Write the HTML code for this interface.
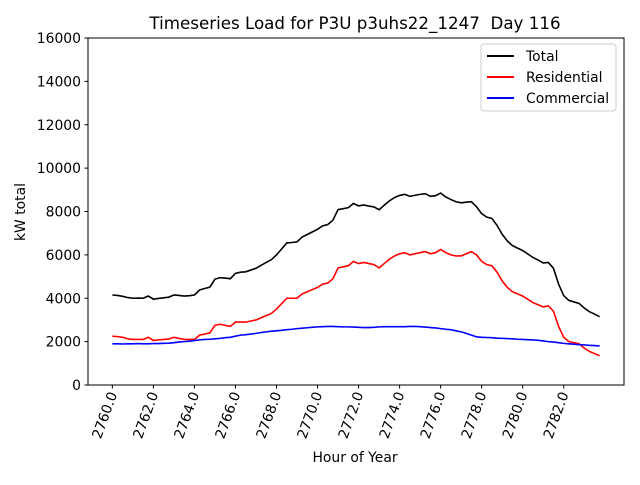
<!DOCTYPE html>
<html><head><meta charset="utf-8"><style>
body{margin:0;background:#fff;}
svg text{font-family:"DejaVu Sans","Liberation Sans",sans-serif;}
</style></head><body>
<svg id="chart" width="640" height="480" xmlns="http://www.w3.org/2000/svg">
<rect width="640" height="480" fill="#fff"/>
<text x="355" y="29" font-size="16.7" text-anchor="middle" style="white-space:pre">Timeseries Load for P3U p3uhs22_1247&#160; Day 116</text>
<g id="plot"></g>
<rect x="88" y="38" width="536" height="347" fill="none" stroke="#000" stroke-width="1"/>
<text transform="translate(25,212) rotate(-90)" font-size="13.9" text-anchor="middle">kW total</text>
<text x="355" y="462" font-size="13.9" text-anchor="middle">Hour of Year</text>
<g>
<rect x="481" y="44" width="135" height="67" rx="3" fill="#fff" stroke="#ccc"/>
<line x1="487" y1="56" x2="514" y2="56" stroke="#000" stroke-width="2"/>
<text x="526" y="61" font-size="13.9">Total</text>
<line x1="487" y1="77" x2="514" y2="77" stroke="#f00" stroke-width="2"/>
<text x="526" y="82" font-size="13.9">Residential</text>
<line x1="487" y1="98" x2="514" y2="98" stroke="#00f" stroke-width="2"/>
<text x="526" y="103" font-size="13.9">Commercial</text>
</g>
</svg>
<script>
const startHour = 2760;
const stepHours = 0.25;
const xTicks = [2760,2762,2764,2766,2768,2770,2772,2774,2776,2778,2780,2782];
const yTicks = [0,2000,4000,6000,8000,10000,12000,14000,16000];
const totalLoad = [4150,4130,4090,4030,4000,4010,4000,4100,3960,3990,4020,4050,4150,4130,4100,4120,4150,4380,4450,4510,4880,4950,4930,4900,5150,5200,5220,5300,5380,5520,5650,5780,6000,6270,6550,6570,6600,6820,6940,7060,7180,7340,7400,7600,8090,8130,8180,8370,8260,8300,8250,8210,8080,8290,8490,8640,8740,8790,8700,8750,8790,8820,8700,8730,8850,8670,8550,8450,8400,8430,8450,8220,7900,7740,7680,7360,6950,6640,6430,6310,6200,6040,5880,5760,5630,5650,5380,4650,4120,3900,3830,3760,3550,3380,3270,3150];
const residentialLoad = [2250,2230,2200,2130,2100,2100,2100,2200,2050,2080,2100,2120,2200,2150,2100,2100,2100,2300,2350,2400,2750,2800,2750,2700,2900,2900,2900,2950,3000,3100,3200,3300,3500,3750,4000,4000,4000,4200,4300,4400,4500,4650,4700,4900,5400,5450,5500,5700,5600,5650,5600,5550,5400,5600,5800,5950,6050,6100,6000,6050,6100,6150,6050,6100,6250,6100,6000,5950,5950,6050,6150,6000,5700,5550,5500,5200,4800,4500,4300,4200,4100,3950,3800,3700,3600,3650,3400,2700,2200,2000,1950,1900,1700,1550,1450,1350];
const commercialLoad = [1900,1900,1890,1900,1900,1910,1900,1900,1910,1910,1920,1930,1950,1980,2000,2020,2050,2080,2100,2110,2130,2150,2180,2200,2250,2300,2320,2350,2380,2420,2450,2480,2500,2520,2550,2570,2600,2620,2640,2660,2680,2690,2700,2700,2690,2680,2680,2670,2660,2650,2650,2660,2680,2690,2690,2690,2690,2690,2700,2700,2690,2670,2650,2630,2600,2570,2550,2500,2450,2380,2300,2220,2200,2190,2180,2160,2150,2140,2130,2110,2100,2090,2080,2060,2030,2000,1980,1950,1920,1900,1880,1860,1850,1830,1820,1800];

const NS = "http://www.w3.org/2000/svg";
const plot = document.getElementById('plot');
const L=88,R=624,T=38,B=385;
const n = totalLoad.length;
const xMinD = startHour, xMaxD = startHour + (n-1)*stepHours;
const pad = (xMaxD-xMinD)*0.05;
function xs(v){return L + (v-(xMinD-pad))/((xMaxD+pad)-(xMinD-pad))*(R-L);}
function ys(v){return B - v/16000*(B-T);}

yTicks.forEach(v=>{
  const y=ys(v);
  const t=document.createElementNS(NS,'line');
  
  
  t.setAttribute('x1',L-3.5);t.setAttribute('x2',L);t.setAttribute('y1',y);t.setAttribute('y2',y);t.setAttribute('stroke','#000');
  plot.appendChild(t);
  const tx=document.createElementNS(NS,'text');
  
  
  tx.setAttribute('x',L-7);tx.setAttribute('y',y+5);tx.setAttribute('font-size','13.9');tx.setAttribute('text-anchor','end');
  tx.textContent=v;
  plot.appendChild(tx);
});
xTicks.forEach(v=>{
  const x=xs(v);
  const t=document.createElementNS(NS,'line');
  
  
  t.setAttribute('x1',x);t.setAttribute('x2',x);t.setAttribute('y1',B);t.setAttribute('y2',B+3.5);t.setAttribute('stroke','#000');
  plot.appendChild(t);
  const tx=document.createElementNS(NS,'text');
  
  
  tx.setAttribute('transform','translate('+(x+5)+','+(B+9)+') rotate(-70)');
  tx.setAttribute('font-size','13.9');tx.setAttribute('text-anchor','end');
  tx.textContent=v.toFixed(1);
  plot.appendChild(tx);
});
function drawSeries(arr,color,name){
  const p=document.createElementNS(NS,'polyline');
  
  
  p.setAttribute('points',arr.map((v,i)=>xs(startHour+i*stepHours).toFixed(2)+','+ys(v).toFixed(2)).join(' '));
  p.setAttribute('fill','none');p.setAttribute('stroke',color);p.setAttribute('stroke-width','1.6');
  plot.appendChild(p);
}
drawSeries(totalLoad,'#000','total-line');
drawSeries(residentialLoad,'#f00','residential-line');
drawSeries(commercialLoad,'#00f','commercial-line');
</script>
</body></html>
